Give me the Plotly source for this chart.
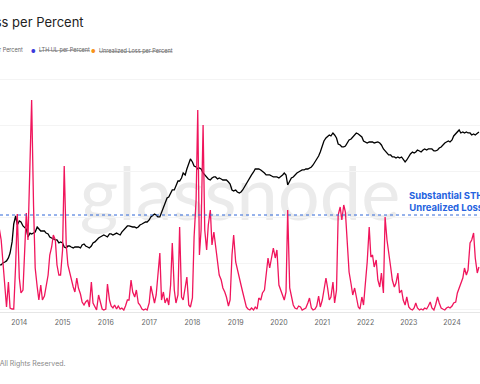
import pandas as pd
import plotly.graph_objects as go

# STH unrealized loss per percent, semi-monthly from 2013-07-01
sth_ul = [
    0.87, 0.84, 0.72, 0.52, 0.24, 0.05, 0.30, 0.04, 0.03, 0.03, 0.47, 0.98,
    0.34, 0.19, 0.22, 0.62, 0.99, 0.72, 1.47, 2.12, 1.07, 0.44, 0.25, 0.12,
    0.27, 0.12, 0.16, 0.27, 0.37, 0.57, 0.65, 0.77, 0.72, 0.47, 0.37, 0.37,
    0.62, 1.46, 0.67, 0.47, 0.40, 0.32, 0.25, 0.20, 0.34, 0.24, 0.18, 0.10,
    0.07, 0.10, 0.12, 0.05, 0.30, 0.09, 0.05, 0.02, 0.17, 0.09, 0.03, 0.02,
    0.03, 0.28, 0.12, 0.06, 0.04, 0.07, 0.03, 0.06, 0.03, 0.04, 0.02, 0.06,
    0.12, 0.12, 0.32, 0.20, 0.15, 0.22, 0.09, 0.07, 0.03, 0.02, 0.03, 0.02,
    0.09, 0.26, 0.17, 0.09, 0.17, 0.37, 0.59, 0.12, 0.20, 0.09, 0.14, 0.07,
    0.27, 0.69, 0.22, 0.09, 0.17, 0.85, 0.15, 0.12, 0.27, 0.35, 0.07, 0.05,
    0.14, 0.75, 1.12, 2.02, 0.57, 0.82, 1.87, 0.82, 0.62, 0.87, 1.02, 0.67,
    0.80, 0.65, 0.50, 0.37, 0.32, 0.24, 0.20, 0.15, 0.06, 0.12, 0.57, 0.77,
    0.50, 0.42, 0.34, 0.27, 0.20, 0.12, 0.05, 0.03, 0.02, 0.04, 0.02, 0.05,
    0.03, 0.14, 0.12, 0.19, 0.22, 0.37, 0.54, 0.44, 0.57, 0.64, 0.54, 0.62,
    0.27, 0.22, 0.15, 0.12, 0.20, 1.02, 0.24, 0.15, 0.07, 0.04, 0.03, 0.06,
    0.05, 0.02, 0.03, 0.04, 0.09, 0.14, 0.04, 0.02, 0.03, 0.06, 0.16, 0.05,
    0.12, 0.22, 0.34, 0.24, 0.12, 0.15, 0.30, 0.09, 0.22, 0.97, 1.05, 0.92,
    1.07, 1.00, 0.67, 0.40, 0.28, 0.17, 0.24, 0.14, 0.05, 0.03, 0.15, 0.07,
    0.27, 0.50, 0.85, 0.55, 0.57, 0.45, 0.52, 0.32, 0.25, 0.39, 0.19, 0.95,
    0.72, 0.57, 0.45, 0.32, 0.25, 0.29, 0.39, 0.19, 0.22, 0.12, 0.07, 0.15,
    0.05, 0.03, 0.02, 0.04, 0.09, 0.04, 0.02, 0.03, 0.02, 0.04, 0.03, 0.06,
    0.10, 0.04, 0.02, 0.07, 0.15, 0.09, 0.04, 0.03, 0.02, 0.04, 0.05, 0.04,
    0.06, 0.09, 0.10, 0.19, 0.24, 0.29, 0.34, 0.44, 0.37, 0.42, 0.69, 0.72,
    0.79, 0.54, 0.39, 0.45,
]

# BTC price (USD), semi-monthly from 2013-07-01
price = [
    90, 95, 95, 105, 110, 116, 135, 172, 300, 737, 1100, 701,
    856, 814, 667, 604, 574, 385, 467, 447, 467, 491, 634, 574,
    519, 519, 519, 467, 447, 385, 366, 348, 331, 331, 285, 300,
    285, 233, 222, 245, 245, 233, 222, 233, 233, 233, 222, 258,
    271, 245, 233, 222, 245, 285, 300, 331, 366, 385, 404, 425,
    404, 385, 447, 447, 425, 447, 467, 447, 425, 491, 546, 604,
    667, 667, 634, 634, 634, 604, 634, 701, 737, 775, 814, 814,
    900, 1047, 1156, 1215, 1156, 1047, 1047, 1278, 1640, 2100, 2700, 2840,
    3310, 4042, 4042, 4940, 6340, 6340, 7360, 9460, 8565, 11560, 15620, 19080,
    16420, 13440, 12790, 11560, 12160, 11560, 9460, 8565, 7750, 7010, 6667, 7360,
    7750, 7750, 7010, 7360, 7010, 6667, 6667, 6667, 6030, 5460, 4042, 3850,
    4042, 3660, 3480, 3660, 4042, 4700, 5460, 6667, 7750, 8565, 9950, 11560,
    11560, 11560, 11000, 10470, 9460, 8565, 8565, 8565, 8150, 7750, 7750, 7750,
    7360, 7750, 8565, 9460, 8565, 5191, 6340, 7360, 7750, 8565, 9460, 9950,
    10470, 11000, 11000, 11560, 11560, 12160, 12790, 14130, 16420, 19080, 22170, 27100,
    36580, 46970, 54600, 60330, 63420, 60330, 70100, 63420, 54600, 40420, 38450, 34790,
    34790, 36580, 44670, 49380, 51910, 57380, 63420, 70100, 66680, 63420, 57380, 46970,
    44670, 42490, 44670, 44670, 44670, 42490, 44670, 44670, 42490, 38450, 31470, 28470,
    25760, 23310, 23310, 21090, 21090, 20060, 21090, 20060, 21090, 18150, 16420, 18150,
    22170, 24500, 27100, 25760, 27100, 29940, 28470, 27100, 29940, 31470, 29940, 31470,
    31470, 31470, 28470, 28470, 29940, 33090, 34790, 38450, 42490, 44670, 46970, 44670,
    49380, 60330, 66680, 73700, 81450, 70100, 73700, 70100, 73700, 70100, 70100, 63420,
    66680, 63420, 70100, 73700,
]
dates = pd.date_range("2013-07-01", periods=len(sth_ul), freq="SMS")

threshold = 0.97
title_text = "STH Unrealized Loss per Percent"
legend_items = ["STH UL per Percent", "LTH UL per Percent", "Unrealized Loss per Percent"]
note_text = "Substantial STH<br>Unrealized Loss"
footer_text = "© 2024 Glassnode. All Rights Reserved."

W, H = 480, 384
T, B = 60, 72
PH = H - T - B


def py(pix):
    return (H - B - pix) / PH


def px(pix):
    return pix / W


fig = go.Figure()
fig.add_trace(go.Scatter(x=dates, y=price, mode="lines", yaxis="y",
                         line=dict(color="#000000", width=1.3), hoverinfo="skip"))
fig.add_trace(go.Scatter(x=dates, y=sth_ul, mode="lines", yaxis="y2",
                         line=dict(color="#f0155c", width=1.3), hoverinfo="skip"))

fig.update_layout(
    width=W, height=H, autosize=False,
    margin=dict(l=0, r=0, t=T, b=B, pad=0, autoexpand=False),
    paper_bgcolor="white", plot_bgcolor="rgba(0,0,0,0)",
    showlegend=False,
    font=dict(family="Inter, Roboto, sans-serif"),
    xaxis=dict(type="date", range=["2013-07-22", "2024-08-24"], automargin=False,
               tick0="2014-01-01", dtick="M12", tickformat="%Y",
               showgrid=False, zeroline=False, showline=True,
               linecolor="#e6e6e6", linewidth=1, ticks="",
               tickfont=dict(size=7, color="#666666"), ticklabelstandoff=4),
    yaxis=dict(type="log", range=[0.954, 6.432], showticklabels=False, automargin=False,
               showgrid=True, gridcolor="#f4f4f4", dtick=1, zeroline=False),
    yaxis2=dict(overlaying="y", side="right", range=[0, 2.52], automargin=False,
                showticklabels=False, showgrid=False, zeroline=False),
)

fig.add_shape(type="line", xref="paper", x0=0, x1=1, yref="y2",
              y0=threshold, y1=threshold,
              line=dict(color="#2f66d8", width=1, dash="dot"))

fig.add_shape(type="rect", xref="paper", yref="paper",
              x0=px(60), x1=px(420), y0=py(230), y1=py(150),
              line=dict(width=0), fillcolor="rgba(0,0,0,0)", layer="below",
              label=dict(text="glassnode", font=dict(size=74, color="#ebebeb",
                                                       family="Lato, sans-serif"),
                         textposition="middle center"))

ann = []
ann.append(dict(text=title_text, x=px(86), y=py(22), xref="paper", yref="paper",
                xanchor="right", yanchor="middle", showarrow=False,
                font=dict(size=13, color="#222222")))
ann.append(dict(text=legend_items[0], x=px(25), y=py(51), xref="paper", yref="paper",
                xanchor="right", yanchor="middle", showarrow=False,
                font=dict(size=5.5, color="#666666")))
ann.append(dict(text="●", x=px(33), y=py(51), xref="paper", yref="paper",
                xanchor="center", yanchor="middle", showarrow=False,
                font=dict(size=5, color="#3b3bdc")))
ann.append(dict(text="<s>" + legend_items[1] + "</s>", x=px(37), y=py(51),
                xref="paper", yref="paper", xanchor="left", yanchor="middle",
                showarrow=False, font=dict(size=5.5, color="#666666")))
ann.append(dict(text="●", x=px(93), y=py(51), xref="paper", yref="paper",
                xanchor="center", yanchor="middle", showarrow=False,
                font=dict(size=5, color="#f7931a")))
ann.append(dict(text="<s>" + legend_items[2] + "</s>", x=px(97), y=py(51),
                xref="paper", yref="paper", xanchor="left", yanchor="middle",
                showarrow=False, font=dict(size=5.5, color="#666666")))
ann.append(dict(text="<b>" + note_text + "</b>", x=px(446), y=py(201),
                xref="paper", yref="paper", xanchor="center", yanchor="middle",
                align="center", showarrow=False,
                font=dict(size=9.5, color="#2563e0")))
ann.append(dict(text=footer_text, x=px(68), y=py(363), xref="paper", yref="paper",
                xanchor="right", yanchor="middle", showarrow=False,
                font=dict(size=7, color="#888888")))
fig.update_layout(annotations=ann)

fig.write_html(
    "out.html",
    config={"displayModeBar": False},
    post_script="document.body.style.margin='0';document.body.style.padding='0';"
                "document.body.style.overflow='hidden';",
)
